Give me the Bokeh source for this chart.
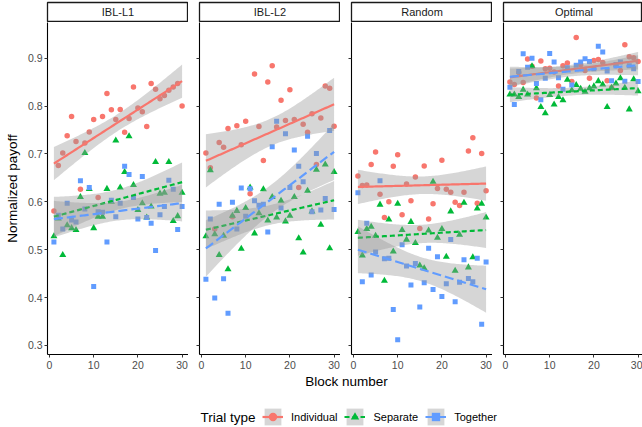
import numpy as np
from bokeh.plotting import figure
from bokeh.models import Range1d, Legend, LegendItem, FixedTicker, CustomJSTickFormatter
from bokeh.layouts import row, column
from bokeh.embed import file_html
from bokeh.resources import INLINE
from bokeh.core.properties import value

# ---------------- data ----------------
blocks = [1, 2, 3, 4, 5, 6, 7, 8, 9, 10, 11, 12, 13, 14, 15,
          16, 17, 18, 19, 20, 21, 22, 23, 24, 25, 26, 27, 28, 29, 30]
panels = ["IBL-L1", "IBL-L2", "Random", "Optimal"]
trial_types = ["Individual", "Separate", "Together"]
x_ticks = [0, 10, 20, 30]
y_ticks = [0.3, 0.4, 0.5, 0.6, 0.7, 0.8, 0.9]

l1_individual = [0.581, 0.676, 0.702, 0.738, 0.778, 0.726, 0.626, 0.723, 0.746, 0.772,
                 0.609, 0.778, 0.826, 0.792, 0.772, 0.793, 0.745, 0.774, 0.840, 0.796,
                 0.788, 0.757, 0.847, 0.835, 0.815, 0.822, 0.833, 0.840, 0.847, 0.800]
l1_separate = [0.528, 0.565, 0.489, 0.551, 0.545, 0.541, 0.610, 0.702, 0.627, 0.545,
               0.569, 0.569, 0.627, 0.600, 0.728, 0.630, 0.662, 0.737, 0.635, 0.583,
               0.597, 0.567, 0.590, 0.683, 0.617, 0.619, 0.683, 0.560, 0.570, 0.619]
l1_together = [0.516, 0.572, 0.543, 0.597, 0.562, 0.558, 0.644, 0.585, 0.630, 0.423,
               0.579, 0.578, 0.516, 0.603, 0.569, 0.597, 0.674, 0.657, 0.609, 0.564,
               0.653, 0.567, 0.555, 0.498, 0.573, 0.590, 0.645, 0.626, 0.542, 0.590]

l2_individual = [0.702, 0.671, 0.543, 0.724, 0.714, 0.753, 0.569, 0.759, 0.719, 0.768,
                 0.617, 0.867, 0.757, 0.686, 0.850, 0.884, 0.756, 0.812, 0.770, 0.834,
                 0.772, 0.630, 0.762, 0.745, 0.784, 0.678, 0.775, 0.842, 0.837, 0.758]
l2_separate = [0.528, 0.666, 0.532, 0.489, 0.529, 0.459, 0.571, 0.581, 0.502, 0.587,
               0.630, 0.534, 0.576, 0.626, 0.561, 0.610, 0.567, 0.602, 0.559, 0.571,
               0.610, 0.524, 0.494, 0.623, 0.580, 0.667, 0.552, 0.678, 0.503, 0.662]
l2_together = [0.438, 0.564, 0.399, 0.595, 0.439, 0.367, 0.599, 0.543, 0.629, 0.570,
               0.627, 0.602, 0.593, 0.595, 0.537, 0.715, 0.768, 0.587, 0.742, 0.630,
               0.708, 0.674, 0.642, 0.737, 0.579, 0.701, 0.583, 0.607, 0.749, 0.584]

random_individual = [0.654, 0.634, 0.635, 0.678, 0.704, 0.616, 0.567, 0.600, 0.674, 0.698,
                     0.573, 0.637, 0.602, 0.652, 0.544, 0.675, 0.564, 0.596, 0.628, 0.687,
                     0.626, 0.620, 0.599, 0.592, 0.620, 0.706, 0.734, 0.597, 0.701, 0.623]
random_separate = [0.537, 0.488, 0.543, 0.548, 0.529, 0.594, 0.435, 0.563, 0.496, 0.596,
                   0.541, 0.521, 0.558, 0.514, 0.467, 0.461, 0.540, 0.642, 0.525, 0.543,
                   0.485, 0.580, 0.456, 0.531, 0.598, 0.463, 0.484, 0.586, 0.596, 0.567]
random_together = [0.619, 0.433, 0.555, 0.447, 0.495, 0.644, 0.481, 0.482, 0.375, 0.312,
                   0.510, 0.466, 0.426, 0.471, 0.380, 0.431, 0.503, 0.417, 0.485, 0.402,
                   0.429, 0.521, 0.391, 0.432, 0.479, 0.440, 0.433, 0.482, 0.344, 0.474]

optimal_individual = [0.850, 0.845, 0.870, 0.849, 0.898, 0.883, 0.817, 0.894, 0.878, 0.879,
                      0.871, 0.842, 0.884, 0.890, 0.851, 0.943, 0.886, 0.874, 0.858, 0.895,
                      0.897, 0.891, 0.853, 0.838, 0.884, 0.874, 0.928, 0.903, 0.901, 0.893]
optimal_separate = [0.824, 0.824, 0.819, 0.834, 0.824, 0.883, 0.837, 0.798, 0.785, 0.823,
                    0.803, 0.819, 0.812, 0.855, 0.833, 0.844, 0.836, 0.830, 0.837, 0.841,
                    0.852, 0.845, 0.798, 0.838, 0.847, 0.858, 0.838, 0.793, 0.856, 0.831]
optimal_together = [0.839, 0.803, 0.872, 0.909, 0.881, 0.900, 0.847, 0.813, 0.858, 0.910,
                    0.892, 0.859, 0.835, 0.880, 0.844, 0.885, 0.892, 0.899, 0.893, 0.878,
                    0.925, 0.913, 0.873, 0.853, 0.887, 0.892, 0.852, 0.884, 0.878, 0.851]

panel_data = {
    "IBL-L1": [l1_individual, l1_separate, l1_together],
    "IBL-L2": [l2_individual, l2_separate, l2_together],
    "Random": [random_individual, random_separate, random_together],
    "Optimal": [optimal_individual, optimal_separate, optimal_together],
}

# ---------------- style ----------------
FONT = "Liberation Sans"
colors = ["#F8766D", "#00BA38", "#619CFF"]
markers = ["circle", "triangle", "square"]
msizes = [5.5, 7, 5]
dashes = ["solid", "5 3", "9 4"]
BAND = "#999999"

X0, X1 = -0.45, 31.45
Y0, Y1 = 0.281, 0.9745
PX_PER_X = 141 / (X1 - X0)

T975 = 2.0484  # t quantile, df = 28


def lm_fit(x, y):
    x = np.asarray(x, float)
    y = np.asarray(y, float)
    n = len(x)
    b, a = np.polyfit(x, y, 1)
    resid = y - (a + b * x)
    s = np.sqrt(np.sum(resid ** 2) / (n - 2))
    xm = x.mean()
    sxx = np.sum((x - xm) ** 2)
    xs = np.linspace(x.min(), x.max(), 80)
    fit = a + b * xs
    se = s * np.sqrt(1.0 / n + (xs - xm) ** 2 / sxx)
    return xs, fit, fit - T975 * se, fit + T975 * se


strips = []
plots = []
for i, name in enumerate(panels):
    left = 47 if i == 0 else 11
    frame_w = 141 if i < 3 else 139
    width = left + frame_w
    x_end = X1 if i < 3 else X0 + frame_w / PX_PER_X

    # strip
    s = figure(width=width, height=22, x_range=Range1d(0, frame_w / 141), y_range=Range1d(0, 1),
               toolbar_location=None, output_backend="svg",
               x_axis_location=None, y_axis_location=None,
               min_border_left=left, min_border_right=0, min_border_top=2, min_border_bottom=1)
    s.grid.grid_line_color = None
    s.outline_line_color = "#1a1a1a"
    s.outline_line_width = 1.3
    s.text(x=[0.5], y=[0.5], text=[name], text_align="center", text_baseline="middle",
           text_font=value(FONT), text_font_size="11px", text_color="#1A1A1A")
    strips.append(s)

    # panel
    p = figure(width=width, height=352, x_range=Range1d(X0, x_end), y_range=Range1d(Y0, Y1),
               toolbar_location=None, output_backend="svg",
               min_border_left=left, min_border_right=0, min_border_top=0, min_border_bottom=20)
    p.grid.grid_line_color = None
    p.outline_line_color = None

    series = panel_data[name]
    for k in range(3):
        p.scatter(x=blocks, y=series[k], marker=markers[k], size=msizes[k],
                  fill_color=colors[k], line_color=None)
    for k in range(3):
        xs, fit, lo, hi = lm_fit(blocks, series[k])
        p.varea(x=xs, y1=lo, y2=hi, fill_color=BAND, fill_alpha=0.4)
        p.line(x=xs, y=fit, line_color=colors[k], line_width=2.2, line_dash=dashes[k])

    for ax in (p.xaxis[0], p.yaxis[0]):
        ax.axis_line_color = "black"
        ax.axis_line_width = 1.1
        ax.major_tick_line_color = "#333333"
        ax.major_tick_in = 0
        ax.major_tick_out = 3
        ax.minor_tick_line_color = None
        ax.major_label_text_font = FONT
        ax.major_label_text_font_size = "10.5px"
        ax.major_label_text_color = "#4D4D4D"
        ax.major_label_standoff = 3
    p.xaxis.ticker = FixedTicker(ticks=x_ticks)
    p.yaxis.ticker = FixedTicker(ticks=y_ticks)
    if i == 0:
        p.yaxis.axis_label = "Normalized payoff"
        p.yaxis.axis_label_text_font = FONT
        p.yaxis.axis_label_text_font_size = "13.5px"
        p.yaxis.axis_label_text_font_style = "normal"
        p.yaxis.axis_label_text_color = "black"
        p.yaxis.axis_label_standoff = 5
        p.yaxis.major_label_standoff = 2
    else:
        p.yaxis.formatter = CustomJSTickFormatter(code="return ''")
    plots.append(p)

# ---------------- footer: x title + legend ----------------
foot = figure(width=642, height=53, x_range=Range1d(0, 642), y_range=Range1d(0, 53),
              toolbar_location=None, output_backend="svg",
              x_axis_location=None, y_axis_location=None,
              min_border_left=0, min_border_right=0, min_border_top=0, min_border_bottom=0)
foot.grid.grid_line_color = None
foot.outline_line_color = None
foot.text(x=[346], y=[46], text=["Block number"], text_align="center", text_baseline="middle",
          text_font=value(FONT), text_font_size="13.5px", text_color="black")
foot.text(x=[200], y=[10.5], text=["Trial type"], text_align="left", text_baseline="middle",
          text_font=value(FONT), text_font_size="13.5px", text_color="black")

# legend-only renderers, placed outside the visible footer range
OFF = -1000
items = []
for k, tt in enumerate(trial_types):
    rb = foot.varea(x=[OFF, OFF + 1], y1=[OFF, OFF], y2=[OFF + 1, OFF + 1],
                    fill_color=BAND, fill_alpha=0.4)
    rl = foot.line(x=[OFF, OFF + 1], y=[OFF, OFF], line_color=colors[k], line_width=2.2,
                   line_dash=dashes[k])
    rs = foot.scatter(x=[OFF], y=[OFF], marker=markers[k], fill_color=colors[k], line_color=None)
    items.append(LegendItem(label=tt, renderers=[rb, rl, rs]))

legend = Legend(items=items, orientation="horizontal", location=(262, 0),
                glyph_width=21, glyph_height=21, label_standoff=8, spacing=7,
                padding=0, margin=0, border_line_color=None, background_fill_color=None,
                label_text_font=FONT, label_text_font_size="11px", label_text_color="black",
                label_height=21)
foot.add_layout(legend, "center")

layout = column(row(*strips, spacing=0), row(*plots, spacing=0), foot, spacing=0)

open("out.html", "w").write(file_html(layout, INLINE))
